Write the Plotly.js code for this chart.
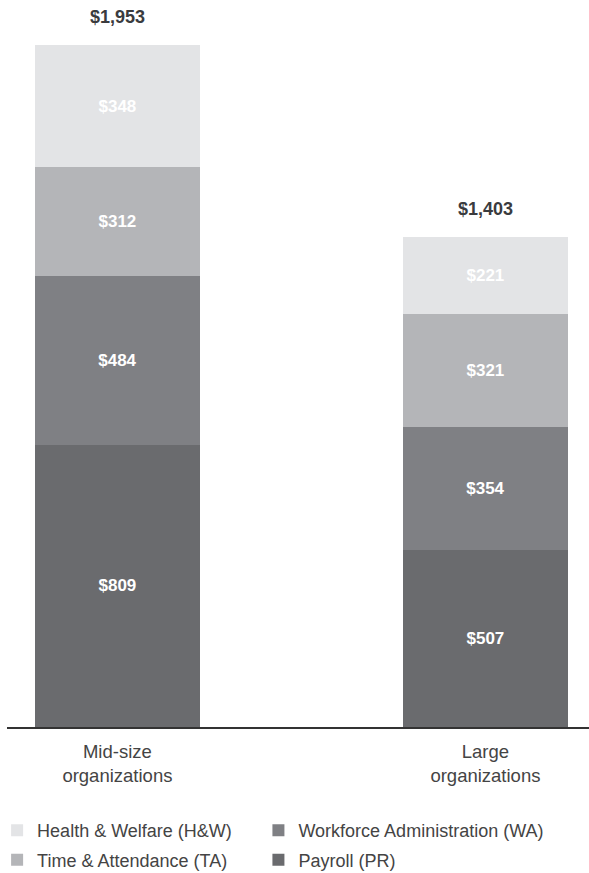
<!DOCTYPE html>
<html>
<head>
<meta charset="utf-8">
<script src="https://cdn.plot.ly/plotly-3.0.1.min.js"></script>
<style>html,body{margin:0;padding:0;background:#fff;}#chart{width:589px;height:873px;}</style>
</head>
<body>
<div id="chart"></div>
<script>
const categories = ["Mid-size<br>organizations", "Large<br>organizations"];
const seriesNames = ["Payroll (PR)", "Workforce Administration (WA)", "Time & Attendance (TA)", "Health & Welfare (H&W)"];
const payroll = [809, 507];
const workforceAdmin = [484, 354];
const timeAttendance = [312, 321];
const healthWelfare = [348, 221];
const totals = [1953, 1403];
const totalLabels = ["$1,953", "$1,403"];

const xpos = categories.map((c, i) => i);
const colors = ["#6a6b6e", "#7f8084", "#b4b5b8", "#e3e4e6"];
const legendOf = ["legend2", "legend2", "legend", "legend"];
const ranks = [2, 1, 2, 1];
const seriesValues = [payroll, workforceAdmin, timeAttendance, healthWelfare];
const FONT = "Liberation Sans, Arial, Helvetica, sans-serif";

const traces = seriesValues.map((vals, k) => ({
  type: "bar",
  name: seriesNames[k],
  x: xpos,
  y: vals,
  width: 0.448,
  marker: {color: colors[k], line: {width: 0}},
  legend: legendOf[k],
  legendgroup: "g" + k,
  legendrank: ranks[k],
  texttemplate: "<b>$%{y:,}</b>",
  textposition: "inside",
  insidetextanchor: "middle",
  textfont: {color: "#ffffff", size: 17, family: FONT},
  hoverinfo: "skip"
}));

const annotations = xpos.map((x, i) => ({
  x: x, y: totals[i], xref: "x", yref: "y",
  text: "<b>" + totalLabels[i] + "</b>",
  showarrow: false, yanchor: "bottom", yshift: 16,
  font: {size: 18, color: "#3a3b3e", family: FONT}
}));

const legendBase = {
  orientation: "v", xanchor: "left", y: -0.122, yanchor: "top",
  traceorder: "grouped", tracegroupgap: 3,
  font: {size: 18, color: "#444", family: FONT},
  itemclick: false, itemdoubleclick: false, bgcolor: "rgba(0,0,0,0)"
};

const layout = {
  width: 589, height: 873,
  margin: {l: 7, r: 0, t: 29, b: 146, autoexpand: false},
  paper_bgcolor: "#ffffff", plot_bgcolor: "#ffffff",
  barmode: "stack",
  font: {family: FONT, color: "#444", size: 14},
  xaxis: {
    range: [-0.30, 1.2815], tickvals: xpos, ticktext: categories,
    showgrid: false, zeroline: false, showline: true, linecolor: "#333", linewidth: 2,
    ticks: "outside", ticklen: 7, tickcolor: "rgba(0,0,0,0)",
    tickfont: {size: 18.5, color: "#444", family: FONT}, fixedrange: true
  },
  yaxis: {range: [0, 2000], visible: false, showgrid: false, zeroline: false, fixedrange: true},
  showlegend: true,
  legend: Object.assign({}, legendBase, {x: -0.017}),
  legend2: Object.assign({}, legendBase, {x: 0.432}),
  annotations: annotations
};

Plotly.newPlot("chart", traces, layout, {displayModeBar: false, staticPlot: true});
</script>
</body>
</html>
